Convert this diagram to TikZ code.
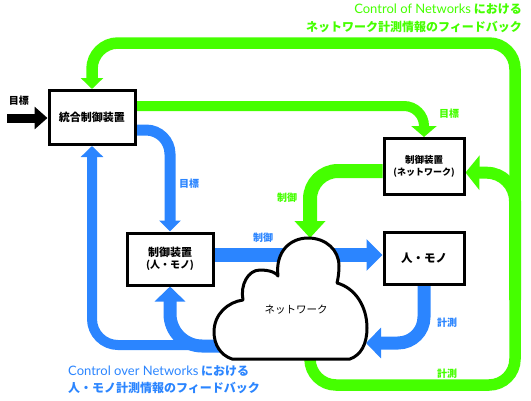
\documentclass[tikz,border=0pt]{standalone}
\usepackage{fontspec}
\setmainfont{Noto Sans CJK JP}
\newfontfamily\lat{Lato}
\usetikzlibrary{arrows.meta}
\definecolor{gr}{HTML}{45FF00}
\definecolor{bl}{HTML}{2B85FF}
\begin{document}
\begin{tikzpicture}[x=1pt,y=-1pt,
  box/.style={draw, line width=3pt, fill=white, inner sep=0pt, align=center},
  lbl/.style={font=\fontsize{10}{12}\selectfont\bfseries, inner sep=0pt},
  smallA/.style={-{Triangle[width=22pt,length=11pt]}},
  gl/.style={draw=gr, line width=#1},
  bll/.style={draw=bl, line width=#1}]
\useasboundingbox (0,0) rectangle (531,400);

% boxes (drawn first as nodes, redrawn later on top)
\node[box, minimum width=86pt, minimum height=54pt] (tougou) at (92,117.5) {};
\node[box, minimum width=80pt, minimum height=56pt] (netctl) at (424,166.5) {};
\node[box, minimum width=86pt, minimum height=52pt] (hmctl) at (170,259) {};
\node[box, minimum width=80pt, minimum height=52pt] (hm) at (424,258.5) {};

\coordinate (in) at (7,118);
\coordinate (gstart) at (310,330);
\coordinate (gbl) at (310,385);
\coordinate (gbr) at (515,385);
\coordinate (gtr) at (515,43);
\coordinate (gbranch) at (515,300);
\coordinate (cloudtop) at (310,238);
\coordinate (cloudR) at (366,343);
\coordinate (bstart) at (240,345);
\coordinate (bstart2) at (240,346);

% black input
\draw[line width=9pt, -{Triangle[width=22pt,length=13pt]}] (in) -- (tougou.west |- in);

% green outer loop
\draw[gl=11.5pt, rounded corners=26pt, smallA] (gstart) -- (gbl) -- (gbr) -- (gtr) -- (tougou.north |- gtr) -- (tougou.north);
% green branch into network controller
\draw[gl=12pt, rounded corners=28pt, -{Triangle[width=34pt,length=14pt]}] (gbranch) -- (515,173) -- ([yshift=-6pt]netctl.east);
% green goal
\draw[gl=10pt, rounded corners=20pt, -{Triangle[width=25pt,length=11pt]}] ([yshift=11.5pt]tougou.east) -- (netctl.north |- 0,106) -- (netctl.north);
% green control
\draw[gl=14pt, rounded corners=28pt, -{Triangle[width=30pt,length=17pt]}] ([yshift=-4.5pt]netctl.west) -- (cloudtop |- 0,171) -- (cloudtop);

% blue goal
\draw[bll=11pt, rounded corners=24pt, -{Triangle[width=21pt,length=11pt]}] ([yshift=-12.5pt]tougou.east) -- (hmctl.north |- 0,130) -- (hmctl.north);
% blue control
\draw[bll=14pt, -{Triangle[width=31pt,length=16pt]}] (hmctl.east |- 0,255) -- (hm.west |- 0,255);
% blue measurement
\draw[bll=13pt, rounded corners=26pt, -{Triangle[width=30pt,length=15pt]}] (hm.south) -- (hm.south |- cloudR) -- (cloudR);
% blue feedback loops
\draw[bll=10pt, rounded corners=26pt, smallA] (bstart) -- (tougou.south |- bstart) -- (tougou.south);
\draw[bll=13pt, rounded corners=32pt, -{Triangle[width=30pt,length=15pt]}] (bstart2) -- (hmctl.south |- bstart2) -- (hmctl.south);

% cloud
\draw[line width=3pt, fill=white, line join=round]
  (278,276) .. controls (275,252) and (290,238) .. (308,238)
  .. controls (326,238) and (339,250) .. (339,266)
  .. controls (339,273) and (338,279) .. (337,283)
  .. controls (355,288) and (367,306) .. (367,328)
  .. controls (367,344) and (361,355) .. (350,359)
  -- (232,359)
  .. controls (220,355) and (214,344) .. (214,332)
  .. controls (214,314) and (228,302) .. (243,300)
  .. controls (240,285) and (248,270) .. (260,270)
  .. controls (270,270) and (277,273) .. (278,276) -- cycle;
\node[font=\fontsize{10.5}{12}\selectfont] (net) at (296,310) {ネットワーク};

% boxes on top
\node[box, minimum width=86pt, minimum height=54pt, font=\fontsize{11}{13}\selectfont\bfseries] at (tougou) {統合制御装置};
\node[box, minimum width=80pt, minimum height=56pt] at (netctl) {{\fontsize{9.5}{13}\selectfont\bfseries 制御装置}\\{\fontsize{9}{13}\selectfont\bfseries (ネットワーク)}};
\node[box, minimum width=86pt, minimum height=52pt] at (hmctl) {{\fontsize{11}{17.5}\selectfont\bfseries 制御装置}\\{\fontsize{10}{17.5}\selectfont\bfseries (人・モノ)}};
\node[box, minimum width=80pt, minimum height=52pt, font=\fontsize{11.5}{13}\selectfont\bfseries] at (hm) {人・モノ};

% labels
\node[lbl] (l1) at (19,101) {目標};
\node[lbl, text=gr] (l2) at (449,114) {目標};
\node[lbl, text=bl] (l3) at (189,184) {目標};
\node[lbl, text=gr] (l4) at (287,198) {制御};
\node[lbl, text=bl] (l5) at (263,238) {制御};
\node[lbl, text=bl] (l6) at (447,323) {計測};
\node[lbl, text=gr] (l7) at (447,374) {計測};

% titles
\node[anchor=east, inner sep=0pt, text=gr, font=\fontsize{12}{14}\selectfont\bfseries] (t1) at (522,9.5) {{\lat\mdseries\fontsize{13}{14}\selectfont Control of Networks} における};
\node[anchor=east, inner sep=0pt, text=gr, font=\fontsize{12}{14}\selectfont\bfseries] (t2) at (522,26.5) {ネットワーク計測情報のフィードバック};
\node[anchor=west, inner sep=0pt, text=bl, font=\fontsize{12}{14}\selectfont\bfseries] (t3) at (68,371) {{\lat\mdseries\fontsize{13}{14}\selectfont Control over Networks} における};
\node[anchor=west, inner sep=0pt, text=bl, font=\fontsize{12}{14}\selectfont\bfseries] (t4) at (68,387.5) {人・モノ計測情報のフィードバック};
\end{tikzpicture}
\end{document}
